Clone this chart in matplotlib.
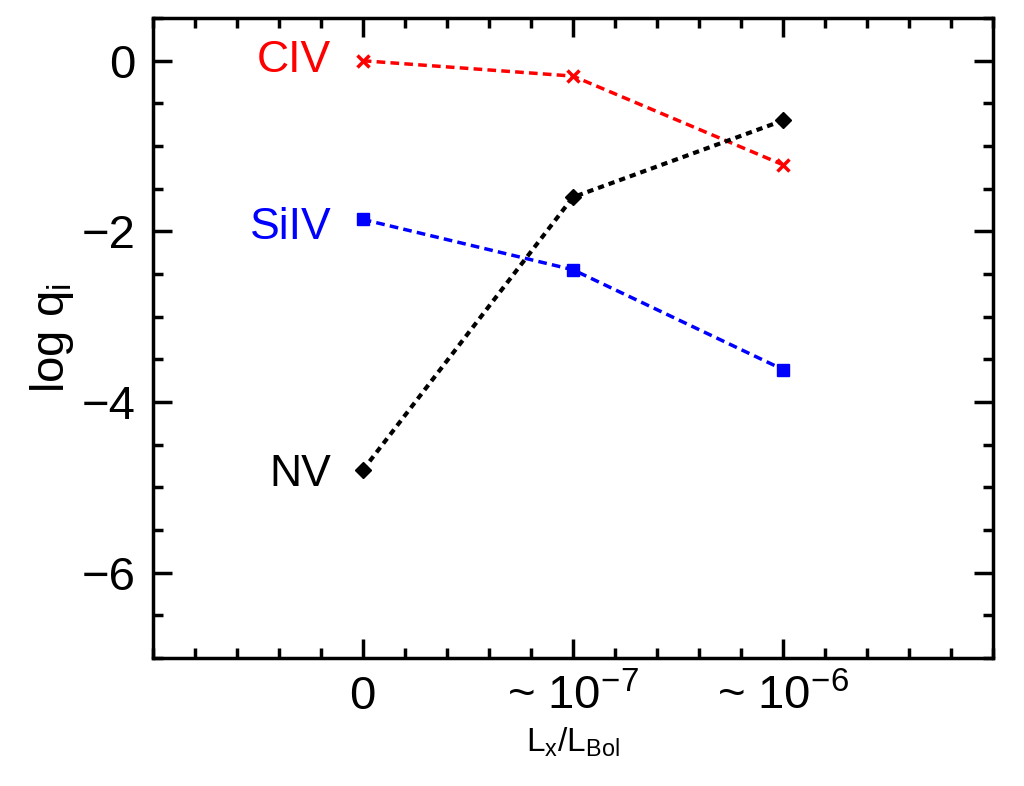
import matplotlib.pyplot as plt
from matplotlib.ticker import MultipleLocator

x = [0, 1, 2]
xlabels = ['0', r'~ 10$^{-7}$', r'~ 10$^{-6}$']
civ = [0.0, -0.18, -1.22]
siiv = [-1.86, -2.45, -3.62]
nv = [-4.8, -1.6, -0.7]

plt.rcParams['font.family'] = 'Liberation Sans'
plt.rcParams['mathtext.fontset'] = 'custom'
plt.rcParams['mathtext.rm'] = 'Liberation Sans'
plt.rcParams['mathtext.it'] = 'Liberation Sans'

fig = plt.figure(figsize=(10.24, 7.86), dpi=100)
ax = fig.add_axes([0.149, 0.163, 0.821, 0.814])

ax.plot(x, civ, color='red', ls=(0, (2.5, 1.5)), lw=2.5, marker='x', ms=9, mew=2.5)
ax.plot(x, siiv, color='blue', ls=(0, (2.5, 1.5)), lw=2.5, marker='s', ms=8)
ax.plot(x, nv, color='black', ls=(0, (1.5, 1.2)), lw=3, marker='D', ms=8)

ax.text(-0.15, 0.0, 'CIV', color='red', fontsize=32, ha='right', va='center')
ax.text(-0.15, -1.95, 'SiIV', color='blue', fontsize=32, ha='right', va='center')
ax.text(-0.15, -4.85, 'NV', color='black', fontsize=32, ha='right', va='center')

ax.set_xlim(-1, 3)
ax.set_ylim(-7, 0.5)
ax.set_xticks(x)
ax.set_xticklabels(xlabels)
ax.xaxis.set_minor_locator(MultipleLocator(0.2))
ax.yaxis.set_major_locator(MultipleLocator(2))
ax.yaxis.set_minor_locator(MultipleLocator(0.5))
ax.tick_params(which='both', direction='in', top=True, right=True, width=2.5)
ax.tick_params(which='major', length=14, labelsize=34, pad=12)
ax.tick_params(which='minor', length=7)
for s in ax.spines.values():
    s.set_linewidth(2.5)

ax.set_xlabel(r'L$_{\rm x}$/L$_{\rm Bol}$', fontsize=24)
ax.set_ylabel(r'log q$_{\rm i}$', fontsize=34)

fig.savefig('out.png', dpi=100)
